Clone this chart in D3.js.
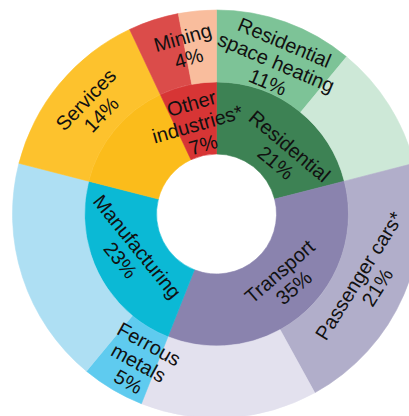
<!DOCTYPE html>
<html>
<head>
<meta charset="utf-8">
<script src="https://cdn.jsdelivr.net/npm/d3@7/dist/d3.min.js"></script>
<style>
body { margin: 0; background: #fff; }
svg text { font-family: "Liberation Sans", Arial, sans-serif; font-size: 20px; fill: #111; }
</style>
</head>
<body>
<script>
var w = 409;
var h = 416;
var cx = 216.5, cy = 214;

// inner ring: sectors, share of total (%)
var sectors = ["Residential", "Transport", "Manufacturing", "Services", "Other industries*"];
var sectorShares = [21, 35, 23, 14, 7];

// outer ring: the highlighted sub-category of each sector (%)
var subNames = ["Residential space heating", "Passenger cars*", "Ferrous metals", "Services", "Mining"];
var subShares = [11, 21, 5, 14, 4];

// colours
var innerColors = ["#3d8254", "#8a83ae", "#0bb9d5", "#fbbc1b", "#d73535"];
var subColors   = ["#7dc397", "#b1aeca", "#5fcbef", "#fdc22d", "#db4c4a"];
var restColors  = ["#cde8d7", "#e3e1ee", "#aedff3", "#fdc22d", "#f9bd9d"];

// label placement: angle (deg, clockwise from top), radius, rotation, line breaks
var labelLayout = {
    "1:Residential":               { a: 48,    r: 89,  rot: 40,  lines: ["Residential"] },
    "1:Transport":                 { a: 133,   r: 96,  rot: -41, lines: ["Transport"] },
    "1:Manufacturing":             { a: 245.8, r: 96,  rot: 51,  lines: ["Manufacturing"] },
    "1:Other industries*":         { a: 348,   r: 92,  rot: -16, lines: ["Other", "industries*"] },
    "2:Residential space heating": { a: 21.5,  r: 163, rot: 23,  lines: ["Residential", "space heating"] },
    "2:Passenger cars*":           { a: 114,   r: 166, rot: -58, lines: ["Passenger cars*"] },
    "2:Ferrous metals":            { a: 207.6, r: 168, rot: 29,  lines: ["Ferrous", "metals"] },
    "2:Services":                  { a: 311,   r: 163, rot: -46, lines: ["Services"] },
    "2:Mining":                    { a: 349.5, r: 169, rot: -16, lines: ["Mining"] }
};

var tree = {
    name: "all",
    children: sectors.map(function(s, i) {
        var kids = [{ name: subNames[i], value: subShares[i], share: subShares[i], color: subColors[i] }];
        var rest = sectorShares[i] - subShares[i];
        if (rest > 0) kids.push({ name: s + " other", value: rest, color: restColors[i] });
        return { name: s, share: sectorShares[i], color: innerColors[i], children: kids };
    })
};

var root = d3.hierarchy(tree).sum(function(d) { return d.children ? 0 : d.value; });
d3.partition().size([2 * Math.PI, 3])(root);

var rScale = d3.scaleLinear().domain([1, 3]).range([60, 204]);

var arc = d3.arc()
    .startAngle(function(d) { return d.x0; })
    .endAngle(function(d) { return d.x1; })
    .innerRadius(function(d) { return rScale(d.y0); })
    .outerRadius(function(d) { return rScale(d.y1); });

var svg = d3.select("body")
    .append("svg")
    .attr("width", w)
    .attr("height", h);

var g = svg.append("g")
    .attr("transform", "translate(" + cx + "," + cy + ")");

var nodes = root.descendants().filter(function(d) { return d.depth > 0; });

g.selectAll("path")
    .data(nodes)
    .enter()
    .append("path")
    .attr("d", arc)
    .attr("fill", function(d) { return d.data.color; })
    .attr("stroke", function(d) { return d.data.color; })
    .attr("stroke-width", 0.6);

var labelled = nodes.filter(function(d) { return labelLayout[d.depth + ":" + d.data.name]; });

var labels = g.selectAll("text")
    .data(labelled)
    .enter()
    .append("text")
    .attr("text-anchor", "middle")
    .attr("transform", function(d) {
        var L = labelLayout[d.depth + ":" + d.data.name];
        var t = L.a * Math.PI / 180;
        return "translate(" + (L.r * Math.sin(t)) + "," + (-L.r * Math.cos(t)) + ") rotate(" + L.rot + ")";
    });

labels.each(function(d) {
    var L = labelLayout[d.depth + ":" + d.data.name];
    var lines = L.lines.concat([d.data.share + "%"]);
    var n = lines.length;
    d3.select(this).selectAll("tspan")
        .data(lines)
        .enter()
        .append("tspan")
        .attr("x", 0)
        .attr("y", function(l, i) { return (i - (n - 1) / 2) * 21.5; })
        .attr("dy", "0.35em")
        .text(function(l) { return l; });
});
</script>
</body>
</html>
